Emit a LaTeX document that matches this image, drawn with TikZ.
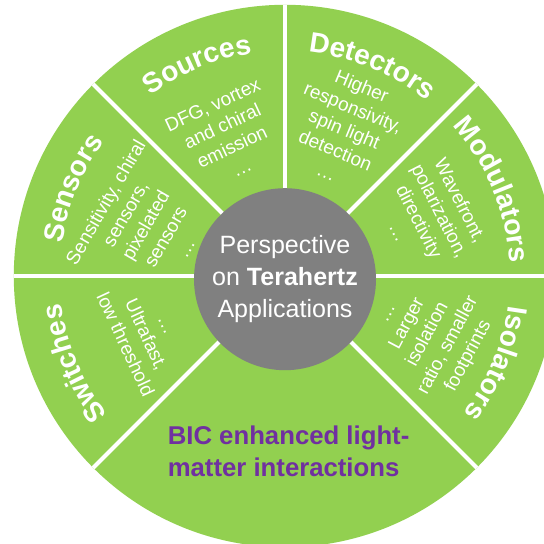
\documentclass[tikz,border=0pt]{standalone}
\usepackage{fontspec}
\setmainfont{Liberation Sans}
\usetikzlibrary{decorations.text}
\definecolor{leafgreen}{HTML}{92D050}
\definecolor{hubgray}{HTML}{808080}
\definecolor{bicpurple}{HTML}{7030A0}
\newcommand{\titlefont}{\fontsize{20}{24}\selectfont\bfseries}
\tikzset{
  bodytext/.style={text=white, align=center, inner sep=0pt,
                   font=\fontsize{13.5}{16.4}\selectfont},
  hub/.style={circle, fill=hubgray, minimum size=4.55cm, inner sep=0pt,
              text=white, align=center, font=\fontsize{17.8}{22.8}\selectfont},
  divider/.style={draw=white, line width=2.8pt},
  sectortitle/.style={decorate, decoration={text along path, text align=center,
                      text color=white, text={|\titlefont|#1}}},
}

\begin{document}
\begin{tikzpicture}
  \useasboundingbox (-7.125,-6.7) rectangle (6.475,6.9);

  % Wheel and dividers
  \fill[leafgreen] (0,0) circle (6.78);
  \foreach \a in {0,45,90,135,180,225,315}
    \draw[divider] (0,0) -- (\a:6.78);

  % Hub
  \node[hub] (hub) at (0,-0.08)
    {Perspective\\on \textbf{Terahertz}\\Applications};

  % Sector titles
  \path[sectortitle=Sources] (135:5.625) arc[start angle=135, end angle=90, radius=5.625];
  \path[sectortitle=Detectors] (90:5.625) arc[start angle=90, end angle=45, radius=5.625];
  \path[sectortitle=Modulators] (45:5.625) arc[start angle=45, end angle=0, radius=5.625];
  \path[sectortitle=Isolators] (0:5.625) arc[start angle=0, end angle=-45, radius=5.625];
  \path[sectortitle=Sensors] (180:5.625) arc[start angle=180, end angle=135, radius=5.625];
  \path[sectortitle=Switches] (225:5.625) arc[start angle=225, end angle=180, radius=5.625];

  % Sector texts
  \node[bodytext, rotate=25] (sourcesText) at (112.5:3.78)
    {DFG, vortex\\and chiral\\emission\\\ldots};
  \node[bodytext, rotate=-22.5] (detectorsText) at (68:3.97)
    {Higher\\responsivity,\\spin light\\detection\\\ldots};
  \node[bodytext, rotate=-63] (modulatorsText) at (22.5:3.92)
    {Wavefront,\\polarization,\\directivity\\\ldots};
  \node[bodytext, rotate=62] (isolatorsText) at (-22.5:4.0)
    {\ldots\\Larger\\isolation\\ratio, smaller\\footprints};
  \node[bodytext, rotate=-65] (switchesText) at (203:3.9)
    {\ldots\\Ultrafast,\\low threshold};
  \node[bodytext, rotate=60] (sensorsText) at (160:3.72)
    {Sensitivity, chiral\\sensors,\\pixelated\\sensors\\\ldots};

  % Bottom sector
  \node[text=bicpurple, align=left, font=\fontsize{18.3}{22.8}\selectfont\bfseries]
    (bic) at (0.09,-4.38) {BIC enhanced light-\\matter interactions};
\end{tikzpicture}
\end{document}
